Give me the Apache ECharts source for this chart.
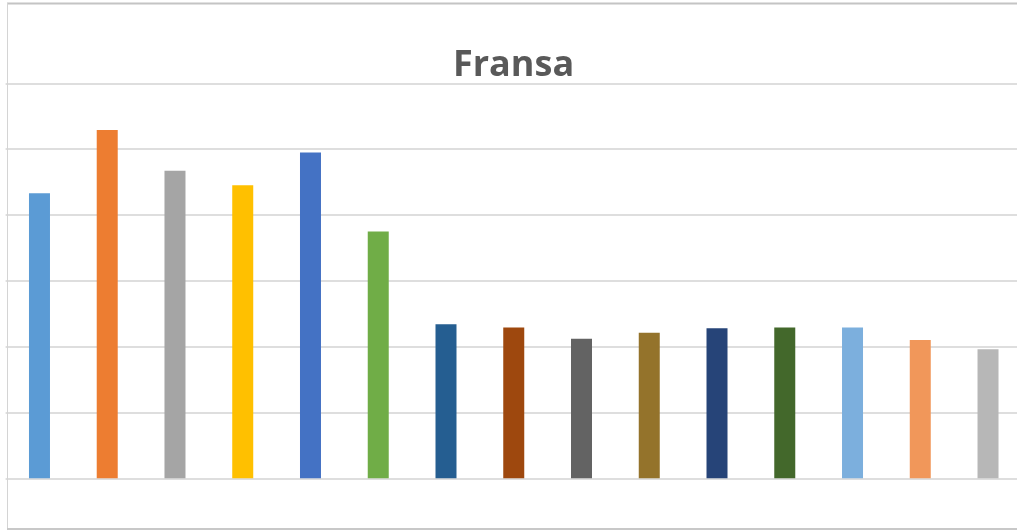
<!DOCTYPE html>
<html>
<head>
<meta charset="utf-8">
<script src="https://cdn.jsdelivr.net/npm/echarts@6/dist/echarts.min.js"></script>
<style>
html,body{margin:0;padding:0;background:#fff;overflow:hidden;}
#chart{width:1040px;height:532px;}
</style>
</head>
<body>
<div id="chart"></div>
<script>
const titleText = 'Fransa';
const categories = ['1','2','3','4','5','6','7','8','9','10','11','12','13','14','15'];
const values = [43.3, 52.9, 46.7, 44.5, 49.5, 37.5, 23.4, 22.9, 21.2, 22.1, 22.8, 22.9, 22.9, 21.0, 19.6];
const barColors = ['#5B9BD5','#ED7D31','#A5A5A5','#FFC000','#4472C4','#70AD47','#255E91','#9E480E','#636363','#94732B','#264478','#43682B','#7CAFDD','#F1975A','#B7B7B7'];
const yTicks = [0, 10, 20, 30, 40, 50, 60];

const chart = echarts.init(document.getElementById('chart'), null, {renderer:'canvas'});
chart.setOption({
  backgroundColor: '#ffffff',
  animation: false,
  color: barColors,
  title: {
    text: titleText,
    left: 448,
    top: 43,
    textStyle: {fontFamily: 'Open Sans', fontWeight: 'bold', fontSize: 36, color: '#595959'}
  },
  grid: {left: 5.6, top: 83.3, width: 1016.3, height: 395},
  xAxis: {
    type: 'category',
    data: categories,
    axisLine: {show: false},
    axisTick: {show: false},
    axisLabel: {show: false}
  },
  yAxis: {
    type: 'value',
    min: yTicks[0],
    max: yTicks[yTicks.length - 1],
    interval: yTicks[1] - yTicks[0],
    axisLabel: {show: false},
    axisLine: {show: false},
    axisTick: {show: false},
    splitLine: {show: true, lineStyle: {color: '#dedede', width: 2}}
  },
  series: [{
    type: 'bar',
    data: values,
    colorBy: 'data',
    barWidth: 21
  }],
  graphic: [
    {type: 'rect', shape: {x: 1017, y: 0, width: 30, height: 532}, style: {fill: '#ffffff'}, z: 99, silent: true},
    {type: 'line', shape: {x1: 7, y1: 3.5, x2: 1017, y2: 3.5}, style: {stroke: '#c4c4c4', lineWidth: 2}, z: 100},
    {type: 'line', shape: {x1: 7.5, y1: 3, x2: 7.5, y2: 529}, style: {stroke: '#d4d4d4', lineWidth: 1}, z: 100},
    {type: 'line', shape: {x1: 7, y1: 529, x2: 1017, y2: 529}, style: {stroke: '#c8c8c8', lineWidth: 2}, z: 100}
  ]
});
</script>
</body>
</html>
